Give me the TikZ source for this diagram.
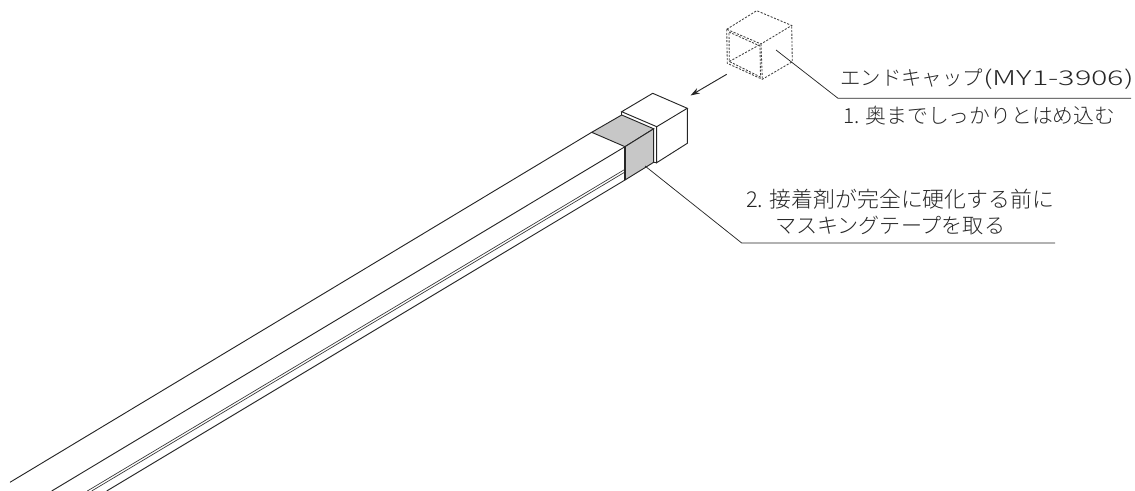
\documentclass[tikz,border=0pt]{standalone}
\usepackage{fontspec}
\setmainfont{Noto Sans CJK JP}[UprightFont=* Light]
\newfontfamily\widefont{Noto Sans CJK JP Light}[FakeStretch=1.5]
\usetikzlibrary{arrows.meta}

\tikzset{
  edge/.style={draw=black!85,line width=0.7pt},
  thin edge/.style={draw=black!80,line width=0.5pt},
  dot edge/.style={draw=black!75,line width=0.65pt,dash pattern=on 1.6pt off 1.1pt},
  tape/.style={fill=black!22,draw=black!85,line width=0.7pt},
  leader/.style={draw=black!85,line width=0.55pt},
  label/.style={inner sep=0pt,anchor=base west,text=black!85},
}

\begin{document}
\begin{tikzpicture}[x=0.75pt,y=-0.75pt]

    \useasboundingbox (0,0) rectangle (1135,491);

    % Rail
    \coordinate (tl) at (591.7,132.3);
    \coordinate (tf) at (625,146.7);
    \coordinate (tb) at (621.7,115);
    \coordinate (tr) at (653.7,128.8);
    \coordinate (sb) at (625,180);
    \coordinate (sr) at (653.7,162.3);
    \coordinate (r1) at (625,169.3);
    \coordinate (r2) at (625,172);

    \coordinate (e0) at (10,482.3);
    \coordinate (e1) at (51.7,491);
    \coordinate (e2) at (87.3,491);
    \coordinate (e3) at (91.7,491);
    \coordinate (e4) at (106.7,491);

    \draw[edge] (tl) -- (e0);
    \draw[edge] (tf) -- (e1);
    \draw[thin edge] (r1) -- (e2);
    \draw[thin edge] (r2) -- (e3);
    \draw[edge] (sb) -- (e4);

    % Masking tape
    \draw[tape] (tl) -- (tb) -- (tr) -- (tf) -- cycle;
    \draw[tape] (tf) -- (tr) -- (sr) -- (sb) -- cycle;
    \draw[edge,line width=0.85pt] (tf) -- (sb);

    % End cap
    \coordinate (cb) at (652.7,93.3);
    \coordinate (cr) at (687.3,108.3);
    \coordinate (cf) at (656.7,126.7);
    \coordinate (cl) at (621.7,111.7);
    \coordinate (cq) at (687.3,143.3);
    \coordinate (cp) at (656.7,162.7);

    \draw[edge] (cl) -- (cb) -- (cr) -- (cf) -- cycle;
    \draw[edge] (cr) -- (cq) -- (cp) -- (cf);
    \draw[edge] (cp) -- (sr);
    \draw[edge] (tb) -- (cl);

    % Dotted cap
    \coordinate (da) at (726.7,29.3);
    \coordinate (db) at (756.7,10.7);
    \coordinate (dc) at (791.7,25.5);
    \coordinate (dd) at (761,44);
    \coordinate (de) at (727.3,63.3);
    \coordinate (df) at (762.3,79.3);
    \coordinate (dg) at (792.3,61.7);
    \coordinate (ia) at (729,32);
    \coordinate (id) at (760,46);
    \coordinate (ie) at (729.3,61.5);
    \coordinate (if) at (760.5,77);

    \draw[dot edge] (da) -- (db) -- (dc) -- (dd) -- cycle;
    \draw[dot edge] (da) -- (de) -- (df) -- (dg) -- (dc);
    \draw[dot edge] (dd) -- (df);
    \draw[dot edge] (ie) -- (dd);
    \draw[dot edge] (ia) -- (id) -- (if) -- (ie) -- cycle;

    % Arrow
    \coordinate (a0) at (726.7,74.3);
    \coordinate (a1) at (690.5,95.5);
    \draw[edge,-{Stealth[length=7pt,width=4.5pt]}] (a0) -- (a1);

    % Labels
    \node[label,font=\fontsize{15.3pt}{18pt}\selectfont] (cap) at (840,86)
      {エンドキャップ{\widefont (MY1-3906)}};
    \node[label,font=\fontsize{15.6pt}{18pt}\selectfont] (push) at (843,124)
      {1. 奥までしっかりとはめ込む};
    \node[label,font=\fontsize{16.4pt}{18pt}\selectfont] (cure) at (746,208)
      {2. 接着剤が完全に硬化する前に};
    \node[label,font=\fontsize{15.8pt}{18pt}\selectfont] (peel) at (775,234)
      {マスキングテープを取る};

    % Leaders
    \coordinate (l0) at (776,50);
    \coordinate (l1) at (838,98.3);
    \coordinate (l2) at (1131,98.3);
    \coordinate (m0) at (645,166);
    \coordinate (m1) at (741.7,243);
    \coordinate (m2) at (1055,243);

    \draw[leader] (l0) -- (l1) -- (l2);
    \draw[leader] (m0) -- (m1) -- (m2);

\end{tikzpicture}
\end{document}
